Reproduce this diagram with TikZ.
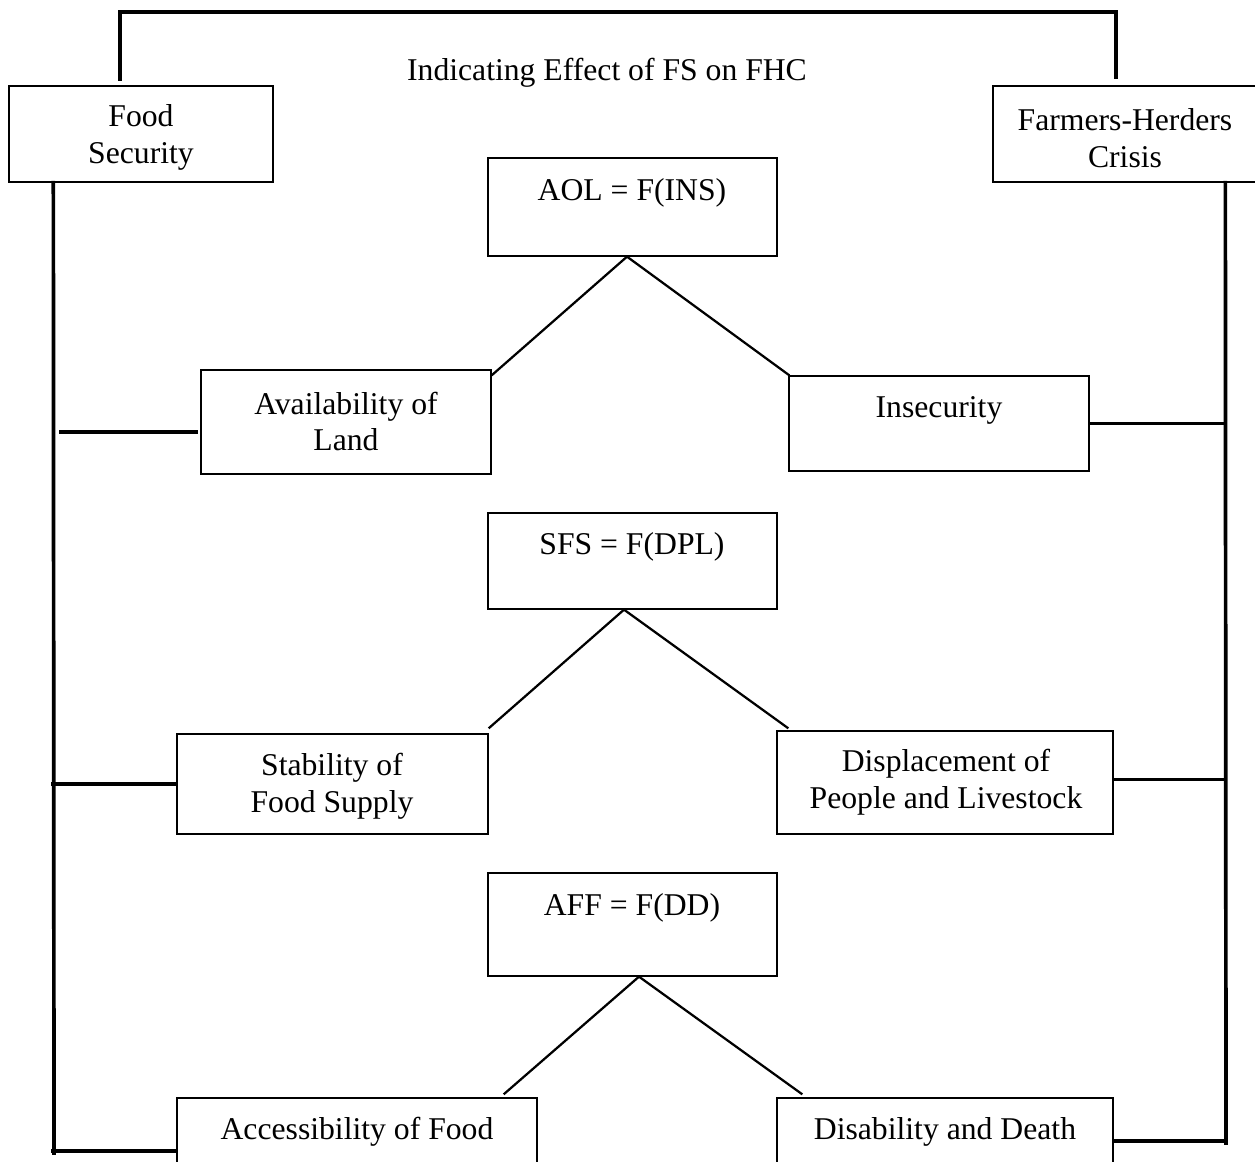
\documentclass[tikz,border=0pt]{standalone}
\usepackage{fontspec}
\setmainfont{Liberation Serif}
\usetikzlibrary{calc}
\newdimen\pxu
\pxu=0.3788pt
\begin{document}
\begin{tikzpicture}[x=0.3788pt,y=-0.3788pt,
  box/.style={draw, line width=0.5pt, rectangle, inner sep=0pt},
  txt/.style={font=\fontsize{12}{14}\selectfont, align=center, inner sep=0pt},
  heavy/.style={line width=1.4pt, line cap=rect},
  diag/.style={line width=0.85pt}]
\useasboundingbox (0,0) rectangle (1255,1162);
\clip (0,0) rectangle (1255,1162);

% boxes
\node[box, minimum width=264\pxu, minimum height=96\pxu] (fs) at (141,134) {};
\node[box, minimum width=264\pxu, minimum height=96\pxu] (fh) at (1125,134) {};
\node[box, minimum width=289\pxu, minimum height=98\pxu] (aol) at (632.5,207) {};
\node[box, minimum width=290\pxu, minimum height=104\pxu] (avl) at (346,422) {};
\node[box, minimum width=300\pxu, minimum height=95\pxu] (ins) at (939,423.5) {};
\node[box, minimum width=289\pxu, minimum height=96\pxu] (sfs) at (632.5,561) {};
\node[box, minimum width=311\pxu, minimum height=100\pxu] (sta) at (332.5,784) {};
\node[box, minimum width=336\pxu, minimum height=103\pxu] (dis) at (945,782.5) {};
\node[box, minimum width=289\pxu, minimum height=103\pxu] (aff) at (632.5,924.5) {};
\node[box, minimum width=360\pxu, minimum height=102\pxu] (acc) at (357,1149) {};
\node[box, minimum width=336\pxu, minimum height=102\pxu] (dd) at (945,1149) {};

% texts
\node[txt] (title) at (607,73) {Indicating Effect of FS on FHC};
\node[txt] (tfs) at (141,137.5) {Food\\Security};
\node[txt] (tfh) at (1125,138) {Farmers-Herders\\Crisis};
\node[txt] (taol) at (632,193) {AOL = F(INS)};
\node[txt] (tavl) at (346,421.5) {Availability of\\Land};
\node[txt] (tins) at (939,410) {Insecurity};
\node[txt] (tsfs) at (632,547) {SFS = F(DPL)};
\node[txt] (tsta) at (332,786.5) {Stability of\\Food Supply};
\node[txt] (tdis) at (946,782.5) {Displacement of\\People and Livestock};
\node[txt] (taff) at (632,908) {AFF = F(DD)};
\node[txt] (tacc) at (357,1132) {Accessibility of Food};
\node[txt] (tdd) at (945,1132) {Disability and Death};

% diagonals
\coordinate (aolap) at ($(aol.south)+(-5.5,0)$);
\coordinate (sfsap) at ($(sfs.south)+(-8.5,0)$);
\coordinate (affap) at ($(aff.south)+(6.5,0)$);
\draw[diag] (aolap) -- ($(avl.north east)+(0,6)$);
\draw[diag] (aolap) -- ($(ins.north west)+(1,0)$);
\draw[diag] (sfsap) -- ($(sta.north east)+(0,-5)$);
\draw[diag] (sfsap) -- ($(dis.north west)+(12,-2)$);
\draw[diag] (affap) -- ($(acc.north east)+(-34,-3)$);
\draw[diag] (affap) -- ($(dd.north west)+(26,-3)$);

% top bracket
\coordinate (bl) at ($(fs.north west)+(112,-6)$);
\coordinate (br) at ($(fh.north west)+(124,-8)$);
\draw[heavy] (bl) -- ++(0,-67) -| (br);

% left spine
\coordinate (ls0) at ($(fs.south west)+(45,0)$);
\coordinate (ls1) at (54,1153);
\draw[heavy] (ls0) -- (ls1);
\coordinate (lc1) at (61,432);
\draw[heavy] (lc1) -- ($(avl.west)+(-4,10)$);
\draw[heavy] (ls0 |- sta.west) -- ($(sta.west)+(-2,0)$);
\draw[heavy] ($(ls0 |- acc.west)+(0,2)$) -- ($(acc.west)+(0,2)$);

% right spine
\coordinate (rs0) at ($(fh.south west)+(233,0)$);
\coordinate (rs1) at (1226,1143);
\draw[heavy] (rs0) -- (rs1);
\draw[heavy] ($(ins.east)+(2,0)$) -- (rs0 |- ins.east);
\draw[heavy] ($(dis.east)+(0,-3)$) -- ($(rs0 |- dis.east)+(0,-3)$);
\draw[heavy] ($(dd.east)+(0,-8)$) -- ($(rs0 |- dd.east)+(0,-8)$);
\end{tikzpicture}
\end{document}
